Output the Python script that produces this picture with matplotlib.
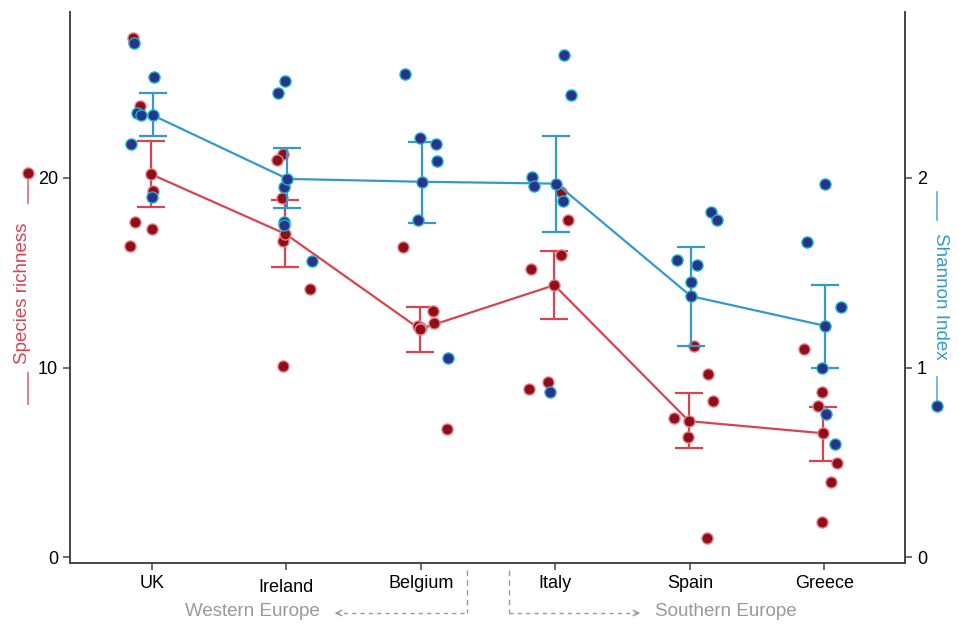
import matplotlib.pyplot as plt
import matplotlib.transforms as mtransforms
from matplotlib.lines import Line2D
import numpy as np

plt.rcParams['font.family'] = ['Liberation Sans', 'DejaVu Sans']

countries = ['UK', 'Ireland', 'Belgium', 'Italy', 'Spain', 'Greece']

# species richness (left axis)
rich_mean = [20.2, 17.05, 12.03, 14.35, 7.18, 6.54]
rich_lo = [18.47, 15.3, 10.8, 12.56, 5.75, 5.1]
rich_hi = [21.95, 18.84, 13.2, 16.15, 8.65, 7.9]
rich_pts = [
    [27.4, 23.8, 19.3, 17.7, 17.3, 16.4],
    [21.27, 20.95, 18.95, 16.68, 14.14, 10.08],
    [16.36, 12.98, 12.35, 12.2, 12.1, 6.75],
    [19.26, 17.78, 15.94, 15.2, 9.24, 8.87],
    [11.13, 9.66, 8.23, 7.33, 6.33, 1.0],
    [10.98, 8.7, 7.97, 4.96, 3.96, 1.85],
]
rich_jit = [
    [-19, -12, 1, -17, 0, -22],
    [-3, -9, -4, -3, 24, -3],
    [-18, 12, 13, -3, 0, 26],
    [6, 13, 6, -24, -7, -26],
    [4, 18, 23, -16, -2, 17],
    [-20, -2, -6, 13, 7, -2],
]

# Shannon index (right axis)
shan_mean = [2.33, 1.995, 1.98, 1.97, 1.377, 1.22]
shan_lo = [2.22, 1.84, 1.76, 1.715, 1.113, 1.0]
shan_hi = [2.45, 2.16, 2.19, 2.22, 1.636, 1.435]
shan_pts = [
    [2.71, 2.53, 2.34, 2.33, 2.18, 1.90],
    [2.51, 2.45, 1.95, 1.77, 1.75, 1.56],
    [2.55, 2.21, 2.18, 2.09, 1.78, 1.05],
    [2.65, 2.44, 2.005, 1.96, 1.88, 0.87],
    [1.82, 1.78, 1.57, 1.54, 1.45],
    [1.97, 1.66, 1.32, 1.0, 0.755, 0.596],
]
shan_jit = [
    [-18, 2, -15, -11, -21, 0],
    [-1, -8, -2, -2, -2, 26],
    [-16, -1, 15, 16, -3, 27],
    [9, 16, -23, -21, 8, -5],
    [21, 27, -13, 7, 1],
    [1, -17, 17, -2, 2, 11],
]

RED_LINE = '#d8434f'
RED_FILL = '#8e0f18'
RED_EDGE = '#e8808a'
BLUE_LINE = '#3399cc'
BLUE_FILL = '#2b3388'
BLUE_EDGE = '#1ab5cf'
SPINE = '#444444'
px = 1 / 134.4  # one pixel in category units

fig = plt.figure(figsize=(9.59, 6.24), dpi=100)
ax = fig.add_axes([70 / 959, 61 / 624, 835 / 959, 551 / 624])
ax2 = ax.twinx()

x = np.arange(len(countries))
ax.set_xlim(-0.61, 5.60)
ax.set_ylim(-0.3, 28.75)
ax2.set_ylim(-0.03, 2.875)

pt_kw = dict(marker='o', ms=8, ls='none', mew=1.0, zorder=3)

for i in range(len(countries)):
    xs = i + np.array(rich_jit[i]) * px
    ax.plot(xs, rich_pts[i], mfc=RED_FILL, mec=RED_EDGE, **pt_kw)
    xs = i + np.array(shan_jit[i]) * px
    ax2.plot(xs, shan_pts[i], mfc=BLUE_FILL, mec=BLUE_EDGE, **pt_kw)

rm = np.array(rich_mean)
ax.errorbar(x - 1 * px, rm, yerr=[rm - np.array(rich_lo), np.array(rich_hi) - rm],
            color=RED_LINE, lw=1.6, capsize=10, capthick=1.6, zorder=2)
ax.plot(x - 1 * px, rm, mfc=RED_FILL, mec=RED_EDGE, **pt_kw)

sm = np.array(shan_mean)
ax2.errorbar(x + 1 * px, sm, yerr=[sm - np.array(shan_lo), np.array(shan_hi) - sm],
             color=BLUE_LINE, lw=1.6, capsize=10, capthick=1.6, zorder=2)
ax2.plot(x + 1 * px, sm, mfc=BLUE_FILL, mec=BLUE_EDGE, **pt_kw)

# axes styling
for a in (ax, ax2):
    a.spines['top'].set_visible(False)
    for s in ('left', 'right', 'bottom'):
        a.spines[s].set_color(SPINE)
        a.spines[s].set_linewidth(1.2)
    a.tick_params(length=5, width=1.1, color=SPINE, labelsize=13)

ax.set_yticks([0, 10, 20])
ax2.set_yticks([0, 1, 2])
ax.set_xticks(x)
ax.set_xticklabels(countries)
ax.tick_params(axis='x', pad=4)
lab = ax.get_xticklabels()[1]
lab.set_transform(lab.get_transform() + mtransforms.ScaledTranslation(0, -4 / 100, fig.dpi_scale_trans))

# rotated axis titles with legend-like handles
def fy(ypix):
    return 1 - ypix / 624

def fx(xpix):
    return xpix / 959

fig.add_artist(Line2D([fx(28)] * 2, [fy(173), fy(203)], color=RED_LINE, lw=1.2, alpha=0.8))
fig.add_artist(Line2D([fx(28)] * 2, [fy(373), fy(404)], color=RED_LINE, lw=1.2, alpha=0.8))
fig.add_artist(Line2D([fx(28)], [fy(173)], marker='o', ms=8, mfc=RED_FILL, mec=RED_EDGE, mew=1.0, ls='none'))
fig.text(fx(23), fy(293), 'Species richness', rotation=90, color=RED_LINE,
         fontsize=13.5, ha='center', va='center')

fig.add_artist(Line2D([fx(937)] * 2, [fy(192), fy(220)], color=BLUE_LINE, lw=1.2, alpha=0.8))
fig.add_artist(Line2D([fx(937)] * 2, [fy(377), fy(405)], color=BLUE_LINE, lw=1.2, alpha=0.8))
fig.add_artist(Line2D([fx(937)], [fy(406)], marker='o', ms=8, mfc=BLUE_FILL, mec=BLUE_EDGE, mew=1.0, ls='none'))
fig.text(fx(941), fy(296), 'Shannon Index', rotation=270, color=BLUE_LINE,
         fontsize=13.5, ha='center', va='center')

# region brackets under the x axis
GRAY = '#999999'
fig.add_artist(Line2D([fx(467)] * 2, [fy(570), fy(613)], color=GRAY, lw=1, ls=(0, (4, 3))))
fig.add_artist(Line2D([fx(509)] * 2, [fy(570), fy(613)], color=GRAY, lw=1, ls=(0, (4, 3))))
fig.add_artist(Line2D([fx(335), fx(467)], [fy(613)] * 2, color=GRAY, lw=1, ls=(0, (3, 3))))
fig.add_artist(Line2D([fx(509), fx(640)], [fy(613)] * 2, color=GRAY, lw=1, ls=(0, (3, 3))))
ax.annotate('', xy=(fx(332), fy(613)), xytext=(fx(342), fy(613)), xycoords='figure fraction',
            arrowprops=dict(arrowstyle='->', color=GRAY, lw=1))
ax.annotate('', xy=(fx(643), fy(613)), xytext=(fx(633), fy(613)), xycoords='figure fraction',
            arrowprops=dict(arrowstyle='->', color=GRAY, lw=1))
fig.text(fx(252), fy(612), 'Western Europe', color=GRAY, fontsize=13.5, ha='center', va='center')
fig.text(fx(726), fy(612), 'Southern Europe', color=GRAY, fontsize=13.5, ha='center', va='center')

plt.savefig('out.png', dpi=100)
